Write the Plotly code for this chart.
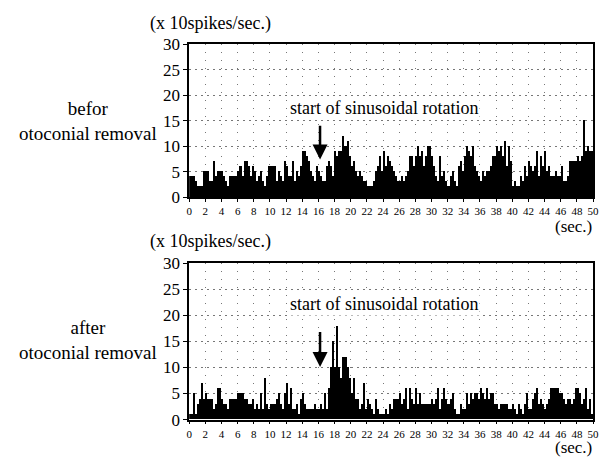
import plotly.graph_objects as go

BIN = 0.25  # seconds per bin
# spike rate (x10 spikes/sec), 4 bins per second, 0..50 s
before = [
    4,4,4,3, 2,2,2,5, 5,5,3,3, 7,4,5,5, 5,4,3,2, 4,4,4,4, 5,6,4,7,
    7,6,4,6, 5,3,4,5, 3,2,4,6, 6,6,6,3, 5,4,3,7, 6,4,4,7, 3,5,4,6,
    9,9,8,7, 5,4,3,6, 5,4,3,3, 6,7,6,4, 9,8,9,9, 12,10,11,8, 6,7,5,4,
    5,4,3,3, 2,2,2,3, 5,6,8,5, 9,6,8,7, 6,5,4,3, 3,4,3,4, 5,8,8,6,
    8,10,8,9, 6,8,10,10, 8,6,4,3, 8,4,5,3, 2,4,5,3, 2,6,7,5, 8,10,9,8,
    10,6,5,4, 3,5,4,5, 5,6,8,8, 10,9,10,8, 11,6,10,7, 2,3,2,2, 4,3,6,4,
    7,6,5,6, 9,4,8,6, 9,5,6,4, 4,5,4,4, 6,3,3,4, 7,7,7,7, 8,7,8,15,
    9,10,9,9,
]
after = [
    1,1,5,1, 3,4,7,4, 5,4,4,4, 2,3,6,6, 4,3,3,2, 4,4,4,4, 5,5,5,4,
    4,3,3,4, 2,3,2,5, 2,8,3,2, 3,3,3,4, 5,3,2,5, 7,3,6,2, 2,3,1,4,
    5,3,2,2, 2,2,3,2, 2,3,2,5, 2,6,10,15, 10,18,10,8, 12,12,10,8, 5,8,4,4,
    2,3,7,2, 4,3,2,1, 4,2,1,1, 1,2,1,3, 2,4,4,4, 5,3,4,6, 2,6,4,3,
    6,3,5,3, 3,3,3,3, 4,3,4,6, 2,4,6,4, 3,4,5,2, 1,1,3,2, 2,5,3,5,
    4,5,5,4, 6,5,4,6, 4,5,5,3, 3,2,3,3, 3,3,2,2, 3,2,1,3, 2,1,3,5,
    2,2,4,5, 6,3,4,3, 2,3,4,6, 6,6,6,5, 5,4,3,4, 4,3,4,6, 6,5,3,4,
    6,2,4,1,
]
x_ticks = list(range(0, 51, 2))
y_ticks = [0, 5, 10, 15, 20, 25, 30]
row_labels = ["befor<br>otoconial removal", "after<br>otoconial removal"]
unit_label = "(x 10spikes/sec.)"
time_label = "(sec.)"
event_label = "start of sinusoidal rotation"
event_time = 16.2

W, H = 603, 467
SERIF = "Liberation Serif, Times New Roman, serif"

def px(xp):
    return xp / W

def py(yp):
    return 1 - yp / H

centers = [i * BIN + BIN / 2 for i in range(len(before))]

fig = go.Figure()
fig.add_trace(go.Bar(x=centers, y=before, width=BIN, marker=dict(color="black", line=dict(width=0)),
                     xaxis="x", yaxis="y", showlegend=False))
fig.add_trace(go.Bar(x=centers, y=after, width=BIN, marker=dict(color="black", line=dict(width=0)),
                     xaxis="x2", yaxis="y2", showlegend=False))

xdom = [px(189), px(599)]
common_x = dict(range=[0, 50], tickvals=x_ticks, ticktext=[str(v) for v in x_ticks],
                ticks="outside", ticklen=3, tickwidth=1, tickcolor="black",
                tickfont=dict(family=SERIF, size=11, color="black"),
                ticklabeloverflow="allow",
                showline=True, linecolor="black", linewidth=1.5, mirror=True,
                showgrid=True, gridcolor="#777", griddash="1px,7px", gridwidth=1,
                zeroline=False, domain=xdom)
common_y = dict(range=[0, 30], tickvals=y_ticks, ticks="outside", ticklen=4, tickwidth=1,
                tickcolor="black", tickfont=dict(family=SERIF, size=17, color="black"),
                showline=True, linecolor="black", linewidth=1.5, mirror=True,
                showgrid=True, gridcolor="#777", griddash="2px,4px", gridwidth=1,
                zeroline=False)

fig.update_layout(
    width=W, height=H, margin=dict(l=0, r=0, t=0, b=0),
    paper_bgcolor="white", plot_bgcolor="white", bargap=0,
    xaxis=dict(**common_x, anchor="y"),
    yaxis=dict(**common_y, domain=[py(196), py(37)], anchor="x"),
    xaxis2=dict(**common_x, anchor="y2"),
    yaxis2=dict(**common_y, domain=[py(428), py(265)], anchor="x2"),
)

specs = [
    dict(title_y=15, lab_y=117, sec_y=227, label=row_labels[0], xr="x", yr="y",
         ev_y=17.6, ar_top=14.3, ar_tip=7.4),
    dict(title_y=242, lab_y=345, sec_y=457, label=row_labels[1], xr="x2", yr="y2",
         ev_y=22.1, ar_top=17.1, ar_tip=10.1),
]
ann = []
for s in specs:
    ann.append(dict(text=unit_label, x=px(211), y=py(s["title_y"]), xref="paper", yref="paper",
                    showarrow=False, font=dict(family=SERIF, size=18, color="black"),
                    xanchor="center", yanchor="middle"))
    ann.append(dict(text=s["label"], x=px(86), y=py(s["lab_y"]), xref="paper", yref="paper",
                    showarrow=False, font=dict(family=SERIF, size=19, color="black"),
                    xanchor="center", yanchor="middle", align="center"))
    ann.append(dict(text=time_label, x=px(579), y=py(s["sec_y"]), xref="paper", yref="paper",
                    showarrow=False, font=dict(family=SERIF, size=17, color="black"),
                    xanchor="center", yanchor="middle"))
    ann.append(dict(text=event_label, x=24.1, y=s["ev_y"], xref=s["xr"], yref=s["yr"],
                    showarrow=False, font=dict(family=SERIF, size=18, color="black"),
                    xanchor="center", yanchor="middle", bgcolor="white"))
    ann.append(dict(text="", x=event_time, y=s["ar_tip"], ax=event_time, ay=s["ar_top"],
                    xref=s["xr"], yref=s["yr"], axref=s["xr"], ayref=s["yr"],
                    showarrow=True, arrowhead=2, arrowsize=1.2, arrowwidth=2.5, arrowcolor="black"))

fig.update_layout(annotations=ann)
fig.write_html("out.html")
